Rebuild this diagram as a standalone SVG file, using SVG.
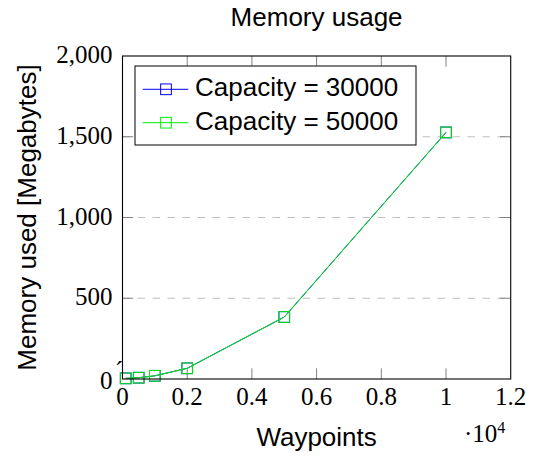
<svg xmlns="http://www.w3.org/2000/svg" width="535" height="457" viewBox="0 0 535 457">
<style>
.sans{font-family:"Liberation Sans",Arial,sans-serif;fill:#000}
.serif{font-family:"Liberation Serif","Times New Roman",serif;fill:#000;font-size:25px}
.grid{stroke:#bfbfbf;stroke-width:1;stroke-dasharray:7.5 7.5;fill:none}
.tick{stroke:#808080;stroke-width:1;fill:none}
.frame{stroke:#000;stroke-width:1.1;fill:none}
.blue{stroke:#0000ff;stroke-width:1;fill:none}
.green{stroke:#00ee00;stroke-width:1;fill:none}
</style>
<rect width="535" height="457" fill="#fff"/>
<g id="grid">
<line class="grid" x1="122.5" y1="298.25" x2="510.7" y2="298.25"/>
<line class="grid" x1="122.5" y1="217.5" x2="510.7" y2="217.5"/>
<line class="grid" x1="122.5" y1="136.75" x2="510.7" y2="136.75"/>
</g>
<g id="ticks">
<path class="tick" d="M187.2 379v-10.7M251.9 379v-10.7M316.6 379v-10.7M381.3 379v-10.7M446 379v-10.7
M187.2 56v10.7M251.9 56v10.7M316.6 56v10.7M381.3 56v10.7M446 56v10.7
M122.5 298.25h10.7M122.5 217.5h10.7M122.5 136.75h10.7
M510.7 298.25h-10.7M510.7 217.5h-10.7M510.7 136.75h-10.7"/>
</g>
<g id="connectors">
<polyline class="blue" points="125.7,378.35 138.7,377.7 154.85,375.8 187.2,368.3 284.25,317 446,132.4"/>
<g class="blue">
<rect x="120.35" y="373" width="10.7" height="10.7"/>
<rect x="133.35" y="372.35" width="10.7" height="10.7"/>
<rect x="149.5" y="370.45" width="10.7" height="10.7"/>
<rect x="181.85" y="362.95" width="10.7" height="10.7"/>
<rect x="278.9" y="311.65" width="10.7" height="10.7"/>
<rect x="440.65" y="127.05" width="10.7" height="10.7"/>
</g>
<polyline class="green" points="125.7,378.35 138.7,377.7 154.85,375.8 187.2,368.3 284.25,317 446,132.4"/>
<g class="green" stroke-width="1.2">
<rect x="120.35" y="373" width="10.7" height="10.7"/>
<rect x="133.35" y="372.35" width="10.7" height="10.7"/>
<rect x="149.5" y="370.45" width="10.7" height="10.7"/>
<rect x="181.85" y="362.95" width="10.7" height="10.7"/>
<rect x="278.9" y="311.65" width="10.7" height="10.7"/>
<rect x="440.65" y="127.05" width="10.7" height="10.7"/>
</g>
</g>
<rect class="frame" x="122.5" y="56" width="388.2" height="323"/>
<g id="legend">
<rect x="135" y="66" width="281" height="79" fill="#fff" stroke="#000" stroke-width="1"/>
<line class="blue" x1="142.7" y1="89.3" x2="188.3" y2="89.3"/>
<rect class="blue" x="160.65" y="83.95" width="10.7" height="10.7"/>
<text class="sans" x="195" y="96" font-size="26">Capacity = 30000</text>
<line class="green" x1="142.7" y1="122.7" x2="188.3" y2="122.7"/>
<rect class="green" x="160.65" y="117.35" width="10.7" height="10.7"/>
<text class="sans" x="195" y="129.5" font-size="26">Capacity = 50000</text>
</g>
<g id="xticklabels" text-anchor="middle">
<text class="serif" x="122.5" y="405">0</text>
<text class="serif" x="187.2" y="405">0.2</text>
<text class="serif" x="251.9" y="405">0.4</text>
<text class="serif" x="316.6" y="405">0.6</text>
<text class="serif" x="381.3" y="405">0.8</text>
<text class="serif" x="446" y="405">1</text>
<text class="serif" x="510.7" y="405">1.2</text>
</g>
<g id="yticklabels" text-anchor="end">
<text class="serif" x="112.5" y="389">0</text>
<text class="serif" x="112.5" y="305">500</text>
<text class="serif" x="112.5" y="224.5">1,000</text>
<text class="serif" x="112.5" y="144">1,500</text>
<text class="serif" x="112.5" y="63">2,000</text>
</g>
<text class="serif" x="115" y="378.5" font-size="20">´</text>
<text class="serif" x="464" y="442" font-size="22">·10<tspan font-size="16" dy="-9">4</tspan></text>
<text class="sans" x="316.6" y="26" font-size="26" text-anchor="middle">Memory usage</text>
<text class="sans" x="316.6" y="446" font-size="26" text-anchor="middle">Waypoints</text>
<text class="sans" transform="translate(36,217.5) rotate(-90)" font-size="26" text-anchor="middle">Memory used [Megabytes]</text>
</svg>
